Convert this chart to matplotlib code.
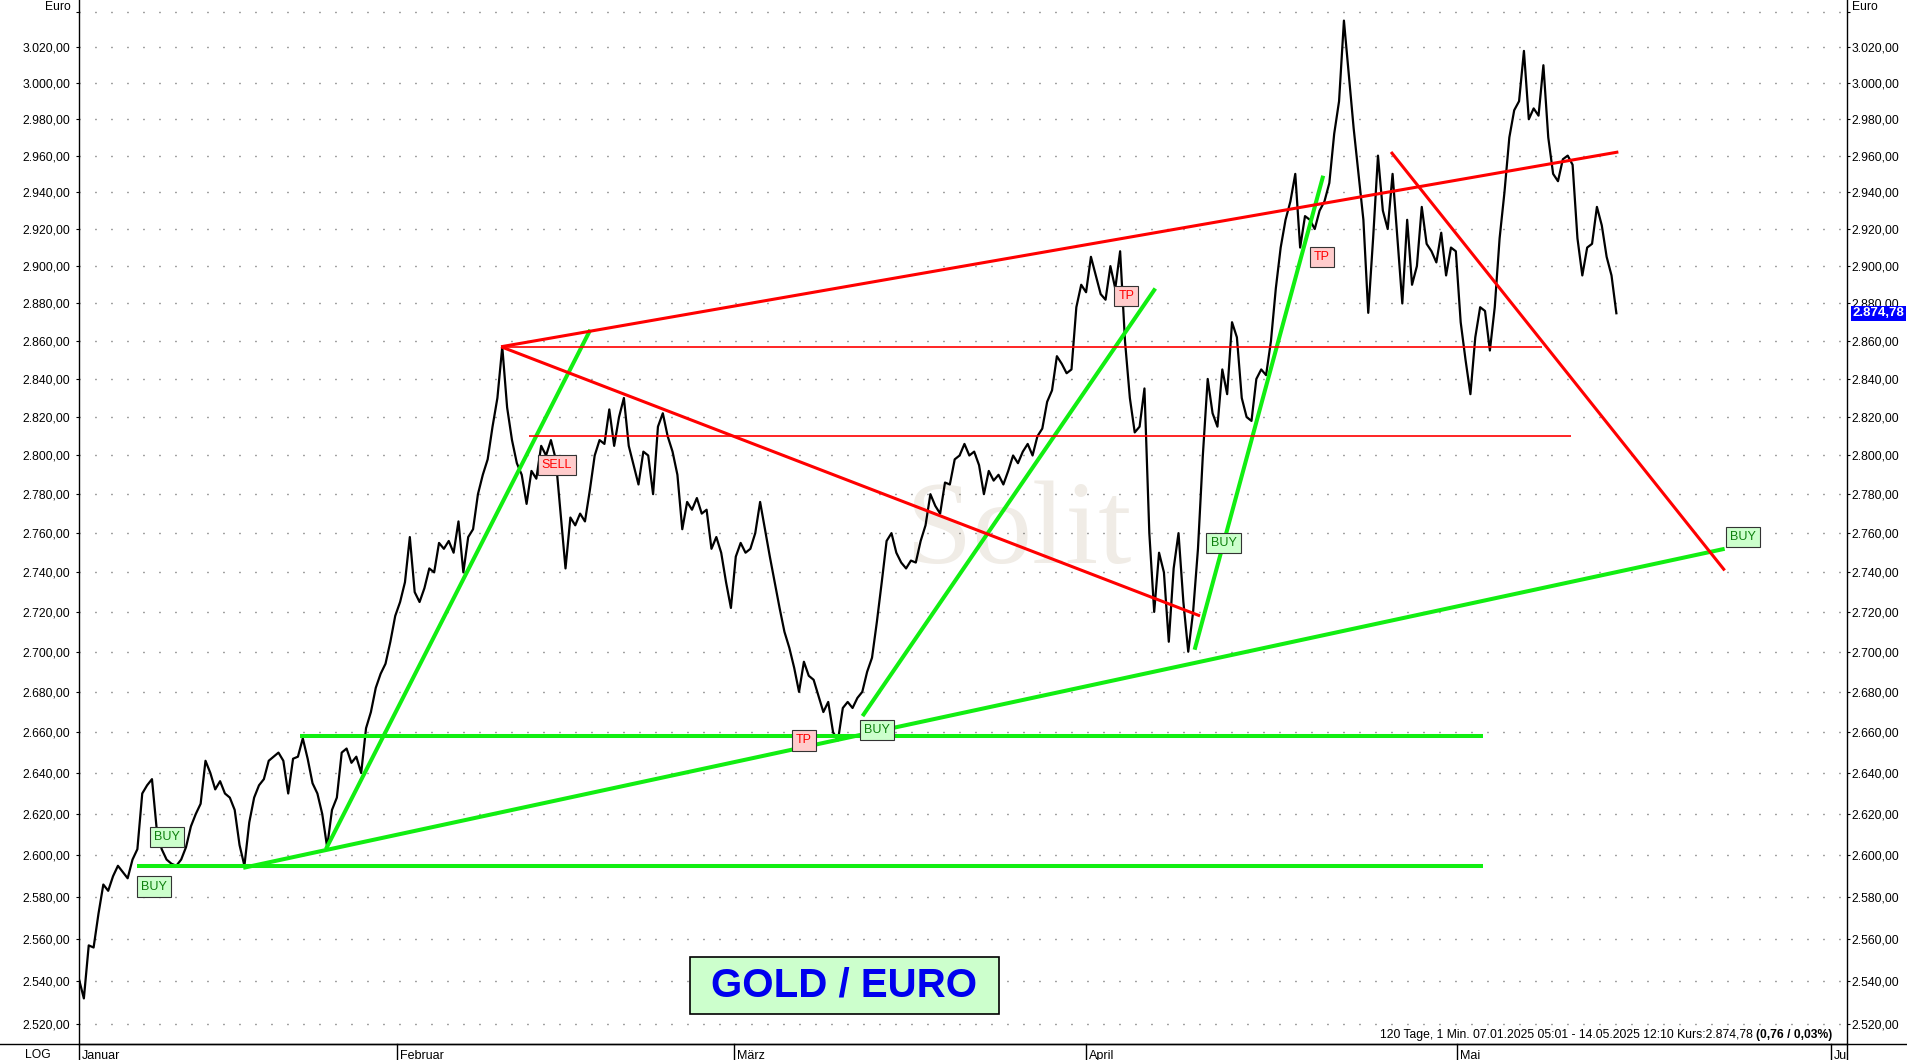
import numpy as np
import matplotlib
matplotlib.use("Agg")
import matplotlib.pyplot as plt
import matplotlib.transforms as mtransforms
from matplotlib.ticker import FixedLocator, FuncFormatter, NullLocator, NullFormatter
from matplotlib.patches import Rectangle
from matplotlib.lines import Line2D

step_days = 0.2883
kurs = [
    2541, 2532, 2557, 2556, 2572, 2586, 2583, 2590, 2595, 2592,
    2589, 2598, 2603, 2630, 2634, 2637, 2612, 2603, 2598, 2596,
    2595, 2598, 2604, 2614, 2620, 2625, 2646, 2640, 2632, 2636,
    2630, 2628, 2622, 2605, 2595, 2616, 2628, 2634, 2637, 2646,
    2648, 2650, 2646, 2630, 2647, 2648, 2657, 2647, 2635, 2630,
    2620, 2604, 2622, 2628, 2650, 2652, 2645, 2648, 2640, 2662,
    2670, 2682, 2689, 2694, 2705, 2718, 2725, 2735, 2758, 2730,
    2725, 2732, 2742, 2740, 2755, 2752, 2756, 2750, 2766, 2740,
    2758, 2762, 2780, 2790, 2798, 2815, 2830, 2857, 2825, 2808,
    2796, 2790, 2775, 2792, 2788, 2805, 2800, 2808, 2798, 2770,
    2742, 2768, 2764, 2770, 2766, 2782, 2800, 2808, 2806, 2824,
    2805, 2820, 2830, 2805, 2795, 2785, 2802, 2800, 2780, 2815,
    2822, 2810, 2802, 2790, 2762, 2776, 2772, 2778, 2770, 2772,
    2752, 2758, 2750, 2735, 2722, 2748, 2755, 2750, 2752, 2760,
    2776, 2762, 2748, 2735, 2722, 2710, 2702, 2692, 2680, 2695,
    2688, 2686, 2678, 2670, 2675, 2660, 2656, 2672, 2675, 2672,
    2677, 2680, 2690, 2697, 2715, 2735, 2756, 2760, 2750, 2745,
    2742, 2746, 2745, 2756, 2764, 2780, 2774, 2770, 2786, 2785,
    2798, 2800, 2806, 2800, 2802, 2795, 2780, 2792, 2787, 2790,
    2785, 2792, 2800, 2796, 2802, 2806, 2800, 2810, 2814, 2828,
    2834, 2852, 2848, 2843, 2845, 2878, 2890, 2886, 2905, 2895,
    2885, 2882, 2900, 2888, 2908, 2860, 2830, 2812, 2815, 2835,
    2760, 2720, 2750, 2740, 2705, 2742, 2760, 2725, 2700, 2720,
    2752, 2800, 2840, 2822, 2815, 2845, 2832, 2870, 2862, 2830,
    2820, 2818, 2840, 2845, 2842, 2860, 2888, 2910, 2925, 2935,
    2950, 2910, 2927, 2925, 2920, 2930, 2935, 2945, 2972, 2990,
    3035, 3005, 2975, 2950, 2925, 2875, 2915, 2960, 2930, 2920,
    2950, 2915, 2880, 2925, 2890, 2900, 2932, 2912, 2908, 2902,
    2918, 2895, 2910, 2908, 2870, 2850, 2832, 2862, 2878, 2876,
    2855, 2878, 2915, 2940, 2970, 2985, 2990, 3018, 2980, 2986,
    2982, 3010, 2970, 2950, 2946, 2958, 2960, 2955, 2915, 2895,
    2910, 2912, 2932, 2922, 2905, 2895, 2874.78,
]
letzter_kurs = 2874.78

# Monatsanfang in Handelstagen
monate = ["Januar", "Februar", "März", "April", "Mai", "Ju"]
monat_pos = [0.0, 18.83, 38.81, 59.67, 81.68, 103.84]

# Trendlinien: (tag0, kurs0, tag1, kurs1)
gruen_linien = [
    (3.46, 2595, 83.17, 2595),
    (13.12, 2658, 83.17, 2658),
    (9.73, 2594, 97.52, 2752),
    (14.63, 2603, 30.3, 2866),
    (46.43, 2668, 63.78, 2888),
    (66.11, 2701, 73.73, 2949),
]
rot_dick = [
    (25.01, 2857, 91.22, 2962),
    (25.01, 2857, 66.43, 2718),
    (77.75, 2962, 97.52, 2741),
]
rot_duenn = [
    (25.01, 2857, 86.68, 2857),
    (26.65, 2810, 88.40, 2810),
]

# Signale
signal_text = ["BUY", "BUY", "SELL", "TP", "BUY", "TP", "BUY", "TP", "BUY"]
signal_tag = [5.19, 4.47, 28.32, 42.96, 47.28, 62.06, 67.82, 73.66, 98.6]
signal_kurs = [2609, 2585, 2795, 2656, 2661, 2884, 2755, 2905, 2758]

y_ticks = list(range(2520, 3041, 20))


def de(v):
    s = f"{v:,.2f}"
    return s.replace(",", "X").replace(".", ",").replace("X", ".")


plt.rcParams['font.family'] = ['Liberation Sans', 'DejaVu Sans']
fs = 8.7

W, H = 1907, 1060
fig = plt.figure(figsize=(W / 100, H / 100), dpi=100)
fig.patch.set_facecolor('white')
ax = fig.add_axes([79 / W, 16 / H, 1767.5 / W, 1044 / H])

t = np.arange(len(kurs)) * step_days

ax.set_yscale('log')
ax.set_ylim(2510.7, 3046.6)
ax.set_xlim(0, 104.74)

# gepunktete Hilfslinien
for v in y_ticks:
    ax.axhline(v, color='#444444', lw=1.0, ls=(0, (0.7, 10.82)), zorder=1)

# Wasserzeichen
ax.text(49.0, 2745, "Solit", family=['Liberation Serif', 'DejaVu Serif'], fontsize=86,
        color='#f0ece6', ha='left', va='baseline', zorder=0.5)

# Kurs
ax.plot(t, kurs, color='black', lw=1.6, zorder=3)

for x0, y0, x1, y1 in gruen_linien:
    ax.plot([x0, x1], [y0, y1], color='#11ee11', lw=2.9, solid_capstyle='butt', zorder=4)
for x0, y0, x1, y1 in rot_dick:
    ax.plot([x0, x1], [y0, y1], color='#ff0000', lw=2.2, solid_capstyle='butt', zorder=4)
for x0, y0, x1, y1 in rot_duenn:
    ax.plot([x0, x1], [y0, y1], color='#ff0000', lw=1.2, solid_capstyle='butt', zorder=4)

for txt, d, p in zip(signal_text, signal_tag, signal_kurs):
    if txt == "BUY":
        fc, tc = '#ccffcc', '#0d800d'
    else:
        fc, tc = '#ffcccc', '#ff0000'
    ax.text(d, p, txt, ha='center', va='center', fontsize=9, color=tc, zorder=6,
            bbox=dict(boxstyle='square,pad=0.33', fc=fc, ec='#333333', lw=0.8))

# Titelbox
ax.add_patch(Rectangle((0.3455, 0.0287), 0.1748, 0.0546, transform=ax.transAxes,
                       fc='#ccffcc', ec='black', lw=1.2, zorder=6))
ax.text(0.4329, 0.0453, "GOLD / EURO", transform=ax.transAxes, ha='center', va='baseline',
        fontsize=29, fontweight='bold', color='#0000ee', zorder=7)

# Infozeile unten rechts
fett = ax.text(0.9921, 0.0057, "(0,76 / 0,03%)", transform=ax.transAxes, ha='right',
               va='baseline', fontsize=fs, fontweight='bold', zorder=7)
ax.annotate("120 Tage, 1 Min. 07.01.2025 05:01 - 14.05.2025 12:10 Kurs:2.874,78 ",
            xy=(0, 0), xycoords=fett, ha='right', va='bottom', fontsize=fs, zorder=7)

# Achsen
fmt = FuncFormatter(lambda v, p: "" if v >= 3039 else de(v))
ax.yaxis.set_major_locator(FixedLocator(y_ticks))
ax.yaxis.set_minor_locator(NullLocator())
ax.yaxis.set_major_formatter(fmt)
ax.yaxis.set_minor_formatter(NullFormatter())
ax.tick_params(axis='y', which='major', direction='out', length=2.2, width=0.8, pad=4,
               labelsize=fs, left=True, right=False)
ax.set_xticks([])
ax.spines['top'].set_visible(False)
ax.spines['right'].set_visible(False)
for s in ['left', 'bottom']:
    ax.spines[s].set_linewidth(1.0)

ax2 = ax.twinx()
ax2.set_yscale('log')
ax2.set_ylim(ax.get_ylim())
ax2.yaxis.set_major_locator(FixedLocator(y_ticks))
ax2.yaxis.set_minor_locator(NullLocator())
ax2.yaxis.set_major_formatter(fmt)
ax2.yaxis.set_minor_formatter(NullFormatter())
ax2.tick_params(axis='y', which='major', direction='out', length=2.2, width=0.8, pad=1.5,
                labelsize=fs)
for s in ['top', 'left', 'bottom']:
    ax2.spines[s].set_visible(False)
ax2.spines['right'].set_linewidth(1.0)

# Einheit oben links und rechts
ax.annotate("Euro", xy=(0, 1), xycoords='axes fraction', xytext=(-5.6, -0.5),
            textcoords='offset points', ha='right', va='top', fontsize=fs, annotation_clip=False)
ax.annotate("Euro", xy=(1, 1), xycoords='axes fraction', xytext=(3.8, -0.5),
            textcoords='offset points', ha='left', va='top', fontsize=fs, annotation_clip=False)

# aktueller Kurs rechts
ax2.annotate(de(letzter_kurs), xy=(1, letzter_kurs), xycoords=('axes fraction', 'data'),
             xytext=(4.2, 0), textcoords='offset points', ha='left', va='center',
             fontsize=9.5, fontweight='bold', color='white', zorder=8, annotation_clip=False,
             bbox=dict(boxstyle='square,pad=0.12', fc='#0000ff', ec='none'))

# Zeitleiste unten
trans = mtransforms.blended_transform_factory(ax.transData, ax.transAxes)
unten = -16 / 1044
for pos, name in zip(monat_pos, monate):
    ax.plot([pos, pos], [0, unten], transform=trans, color='black', lw=1.0, clip_on=False)
    ax.annotate(name, xy=(pos, 0), xycoords=trans, xytext=(2, -8.4), textcoords='offset points',
                ha='left', va='center', fontsize=9, annotation_clip=False)
ax.plot([1, 1], [0, unten], transform=ax.transAxes, color='black', lw=1.0, clip_on=False)
fig.add_artist(Line2D([0, 1], [16 / H, 16 / H], transform=fig.transFigure, color='black', lw=1.0))
fig.text(25 / W, 4.5 / H, "LOG", va='center', ha='left', fontsize=8.7)

plt.savefig('out.png', dpi=100)
